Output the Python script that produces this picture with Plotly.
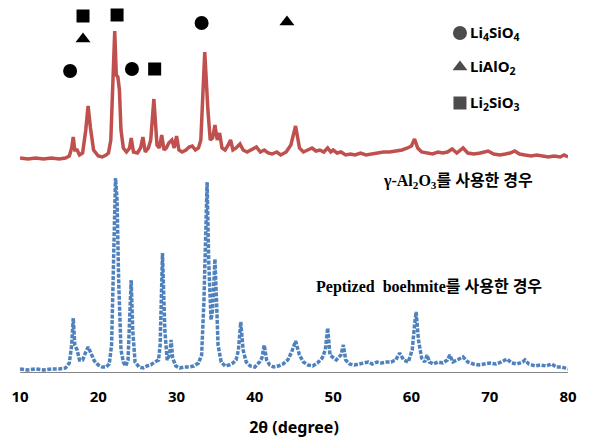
import plotly.graph_objects as go

# ---- data ----
red_2theta = [10.0, 11, 12, 13, 14, 15, 15.8, 16.3, 16.6, 16.8, 17.0, 17.3, 17.6, 18.0, 18.4, 18.7, 19.0, 19.4,
              20.0, 20.5, 21.0, 21.3, 21.6, 21.9, 22.1, 22.3, 22.5, 22.7, 22.9, 23.2, 23.6, 24.0, 24.2, 24.5,
              25.0, 25.4, 25.7, 26.0, 26.4, 26.7, 27.1, 27.5, 27.8, 28.1, 28.4, 28.7, 29.0, 29.4, 29.7, 30.0,
              30.3, 30.7, 31.2, 31.6, 32.0, 32.4, 32.8, 33.1, 33.6, 34.0, 34.3, 34.6, 34.9, 35.2, 35.5, 35.8,
              36.2, 36.6, 36.9, 37.2, 37.6, 38.1, 38.5, 39.0, 39.5, 40.2, 40.7, 41.2, 41.7, 42.2, 42.8, 43.3,
              44.0, 44.6, 45.2, 45.7, 46.2, 46.8, 47.3, 47.8, 48.3, 48.8, 49.3, 49.7, 50.0, 50.5, 51.0, 51.6,
              52.2, 52.8, 53.5, 54.2, 55.0, 55.7, 56.4, 57.2, 58.0, 58.8, 59.5, 60.0, 60.4, 60.8, 61.3, 62.0,
              62.7, 63.4, 64.0, 64.6, 65.2, 65.8, 66.6, 67.2, 68.0, 68.8, 69.8, 70.5, 71.3, 72.0, 72.6, 73.2,
              73.8, 74.5, 75.3, 76.0, 76.8, 77.5, 78.2, 79.0, 79.5, 80.0]
red_intensity = [4, 3, 4, 3, 4, 3, 4, 6, 14, 25, 12, 12, 7, 9, 32, 56, 34, 12,
                 6, 5, 7, 9, 22, 82, 131, 87, 85, 72, 32, 14, 10, 14, 24, 10,
                 9, 14, 25, 10, 14, 22, 63, 17, 14, 27, 12, 14, 19, 22, 14, 26,
                 12, 10, 12, 15, 16, 12, 14, 22, 110, 52, 22, 24, 37, 22, 29, 14,
                 12, 17, 22, 12, 14, 18, 12, 10, 12, 15, 10, 12, 9, 8, 10, 7,
                 10, 17, 36, 14, 10, 12, 14, 11, 12, 10, 14, 10, 12, 9, 10, 7,
                 8, 7, 9, 7, 8, 9, 10, 10, 11, 12, 14, 16, 23, 14, 10, 9,
                 8, 10, 9, 10, 13, 9, 14, 9, 8, 9, 11, 8, 7, 8, 9, 11,
                 8, 7, 6, 7, 6, 5, 6, 5, 7, 5]
RED_OFFSET = 210

blue_2theta = [10, 11, 12, 13, 14, 15, 15.8, 16.3, 16.6, 16.8, 17.0, 17.3, 17.6, 18.0, 18.4, 18.7, 19.0, 19.5,
               20.0, 20.5, 21.0, 21.4, 21.7, 21.9, 22.1, 22.2, 22.4, 22.6, 22.9, 23.2, 23.5, 23.8, 24.0, 24.2,
               24.4, 24.7, 25.2, 25.7, 26.2, 26.7, 27.2, 27.7, 27.9, 28.2, 28.5, 28.8, 29.1, 29.3, 29.5, 29.9,
               30.4, 31.0, 31.6, 32.2, 32.8, 33.2, 33.5, 33.7, 33.9, 34.1, 34.4, 34.6, 34.9, 35.1, 35.3, 35.7,
               36.2, 36.7, 37.2, 37.6, 37.9, 38.2, 38.5, 38.9, 39.4, 40.0, 40.6, 40.9, 41.2, 41.5, 41.9, 42.4,
               43.0, 43.6, 44.2, 44.7, 45.2, 45.7, 46.2, 46.8, 47.4, 48.0, 48.6, 49.0, 49.3, 49.6, 50.0, 50.4,
               51.0, 51.3, 51.6, 52.1, 52.7, 53.3, 53.9, 54.5, 55.0, 55.6, 56.2, 56.8, 57.4, 58.0, 58.5, 59.0,
               59.6, 60.1, 60.4, 60.6, 60.9, 61.3, 61.7, 62.0, 62.3, 62.8, 63.4, 64.0, 64.6, 64.9, 65.3, 65.9,
               66.6, 67.2, 67.9, 68.6, 69.3, 70.0, 70.8, 71.5, 72.2, 72.8, 73.5, 74.2, 74.5, 75.0, 75.8, 76.5,
               77.2, 77.9, 78.5, 79.2, 80.0]
blue_intensity = [3, 2, 3, 2, 3, 3, 4, 9, 27, 54, 27, 22, 12, 12, 20, 25, 20, 11,
                  7, 5, 5, 8, 27, 112, 182, 194, 172, 92, 22, 10, 6, 12, 52, 92,
                  42, 10, 5, 4, 6, 7, 10, 12, 27, 119, 42, 12, 17, 32, 14, 6,
                  4, 5, 5, 6, 9, 17, 72, 152, 190, 112, 52, 62, 113, 72, 27, 10,
                  6, 7, 9, 12, 22, 50, 22, 10, 6, 5, 10, 14, 27, 12, 7, 5,
                  6, 8, 12, 20, 31, 17, 10, 7, 6, 9, 14, 22, 44, 17, 14, 12,
                  17, 27, 12, 8, 7, 8, 9, 10, 8, 10, 9, 10, 10, 12, 19, 12,
                  10, 22, 47, 60, 32, 14, 10, 17, 10, 8, 10, 9, 12, 17, 10, 12,
                  15, 10, 8, 7, 8, 9, 8, 10, 13, 9, 8, 10, 12, 8, 6, 7,
                  6, 8, 5, 5, 3]

# phase markers above the top pattern
circle_2theta = [16.4, 24.3, 33.2]
circle_height = [301, 303, 349]
triangle_2theta = [18.05, 44.1]
triangle_height = [333, 350]
square_2theta = [18.05, 22.4, 27.2]
square_height = [356, 357, 303]

legend_labels = ["Li<sub>4</sub>SiO<sub>4</sub>", "LiAlO<sub>2</sub>", "Li<sub>2</sub>SiO<sub>3</sub>"]
legend_symbols = ["circle", "triangle-up", "square"]
legend_height = [339, 305, 269]
LEGEND_X = 66.2

fig = go.Figure()
fig.add_trace(go.Scatter(x=red_2theta, y=[v + RED_OFFSET for v in red_intensity], mode="lines",
                         line=dict(color="#C0504D", width=3.5), showlegend=False))
fig.add_trace(go.Scatter(x=blue_2theta, y=blue_intensity, mode="lines",
                         line=dict(color="#4F81BD", width=3.5, dash="4px,1.5px"), showlegend=False))

mk = dict(color="black", line=dict(width=0))
fig.add_trace(go.Scatter(x=circle_2theta, y=circle_height, mode="markers", cliponaxis=False,
                         marker=dict(symbol="circle", size=14, **mk), showlegend=False))
fig.add_trace(go.Scatter(x=triangle_2theta, y=triangle_height, mode="markers", cliponaxis=False,
                         marker=dict(symbol="triangle-up", size=13, **mk), showlegend=False))
fig.add_trace(go.Scatter(x=square_2theta, y=square_height, mode="markers", cliponaxis=False,
                         marker=dict(symbol="square", size=13, **mk), showlegend=False))
fig.add_trace(go.Scatter(x=[LEGEND_X] * 3, y=legend_height, mode="markers", cliponaxis=False,
                         marker=dict(symbol=legend_symbols, size=[14, 13, 13], **mk), showlegend=False))

for lab, h in zip(legend_labels, legend_height):
    fig.add_annotation(x=LEGEND_X + 1.0, y=h, text=lab, showarrow=False, xanchor="left", yanchor="middle",
                       font=dict(family="Noto Sans", size=15, color="black", weight="bold"))

fig.add_annotation(x=66.0, y=191, text="γ-Al<sub>2</sub>O<sub>3</sub>를 사용한 경우", showarrow=False,
                   xanchor="center", yanchor="middle",
                   font=dict(family="Liberation Serif, Noto Sans CJK KR", size=16, color="black", weight="bold"))
fig.add_annotation(x=62.2, y=85, text="Peptized  boehmite를 사용한 경우", showarrow=False,
                   xanchor="center", yanchor="middle",
                   font=dict(family="Liberation Serif, Noto Sans CJK KR", size=16, color="black", weight="bold"))

fig.update_layout(
    width=600, height=438,
    margin=dict(l=20, r=32, t=12, b=66),
    paper_bgcolor="white", plot_bgcolor="white",
    xaxis=dict(range=[10, 80], tickvals=[10, 20, 30, 40, 50, 60, 70, 80], showgrid=False, zeroline=False,
               showline=True, linecolor="#868686", linewidth=1, ticks="", ticklabelstandoff=11,
               automargin=False,
               tickfont=dict(family="Noto Sans", size=15, color="black", weight="bold"),
               title=dict(text="2θ (degree)", standoff=18,
                          font=dict(family="Noto Sans", size=16, color="black", weight="bold"))),
    yaxis=dict(range=[0, 360], visible=False, automargin=False),
)

fig.write_html("out.html")
